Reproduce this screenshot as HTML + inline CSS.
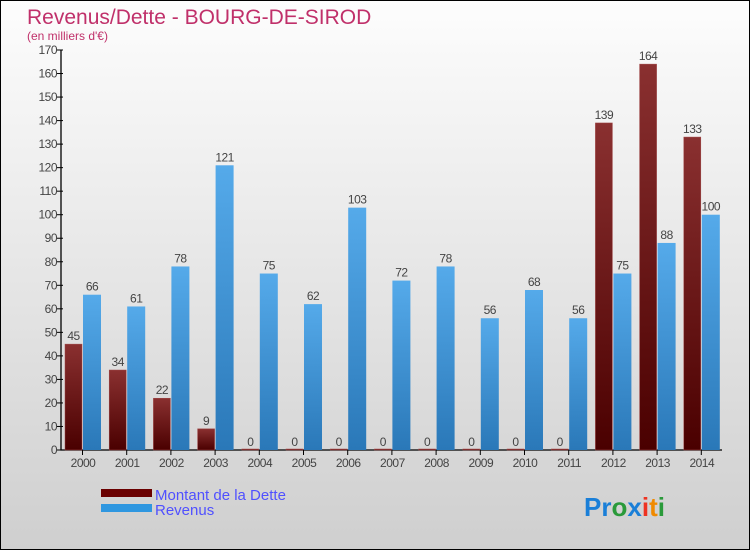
<!DOCTYPE html>
<html><head><meta charset="utf-8"><style>
body{margin:0;width:750px;height:550px;overflow:hidden;font-family:"Liberation Sans",sans-serif}
#wrap{position:absolute;left:0;top:0;width:748px;height:548px;border:1px solid #000;background:linear-gradient(#fdfdfd,#cfcfcf)}
</style></head><body>
<div id="wrap">
<svg id="chart" width="748" height="548">
<defs>
<linearGradient id="gd" x1="0" y1="0" x2="0" y2="1"><stop offset="0" stop-color="#8a3030"/><stop offset="1" stop-color="#4a0000"/></linearGradient>
<linearGradient id="gr" x1="0" y1="0" x2="0" y2="1"><stop offset="0" stop-color="#55aaea"/><stop offset="1" stop-color="#2a78b8"/></linearGradient>
</defs>
<text x="26" y="23" font-size="21" fill="#c0306a">Revenus/Dette - BOURG-DE-SIROD</text>
<text x="26" y="39" font-size="12" fill="#c0306a">(en milliers d'€)</text>
<g id="marks"></g>
<g>
<rect x="100" y="488" width="51" height="8" fill="#6a0000"/>
<text x="154" y="499" font-size="15" fill="#5050ff">Montant de la Dette</text>
<rect x="100" y="503" width="51" height="8" fill="#2f97e0"/>
<text x="154" y="514" font-size="15" fill="#5050ff">Revenus</text>
</g>
<text x="583" y="515" font-size="26" font-weight="bold"><tspan fill="#1a7fd8">Pr</tspan><tspan fill="#2a9a3a">o</tspan><tspan fill="#1a7fd8">x</tspan><tspan fill="#ee3322">i</tspan><tspan fill="#f08a00">t</tspan><tspan fill="#2a9a3a">i</tspan></text>
</svg>
</div>
<script>
const years=["2000","2001","2002","2003","2004","2005","2006","2007","2008","2009","2010","2011","2012","2013","2014"];
const dette=[45,34,22,9,0,0,0,0,0,0,0,0,139,164,133];
const revenus=[66,61,78,121,75,62,103,72,78,56,68,56,75,88,100];
const yTicks=[0,10,20,30,40,50,60,70,80,90,100,110,120,130,140,150,160,170];
const NS="http://www.w3.org/2000/svg";
const g=document.getElementById('marks');
const y0=449,yTop=49,yMax=170;
function yS(v){return y0-(v/yMax)*(y0-yTop);}
function xS(i){return 63+i*44.2;}
function mk(t,a){const e=document.createElementNS(NS,t);for(const k in a)e.setAttribute(k,a[k]);g.appendChild(e);return e;}
const ax=mk('path',{d:`M60 ${yTop} V${y0} H721`,stroke:'#000','stroke-width':1.3,fill:'none'});


yTicks.forEach(v=>{
 const y=yS(v);
 const l=mk('line',{x1:56,x2:62,y1:y,y2:y,stroke:'#000'});
 
 
 const t=mk('text',{x:56,y:y+4,'font-size':12,fill:'#444','text-anchor':'end','letter-spacing':'-0.5'});
 t.textContent=v;
 
 
});
years.forEach((yr,i)=>{
 const x=xS(i);
 const tk=mk('line',{x1:x+18.5,x2:x+18.5,y1:y0,y2:y0+5,stroke:'#000'});
 
 
 const t=mk('text',{x:x+19,y:y0+17,'font-size':12,fill:'#444','text-anchor':'middle','letter-spacing':'-0.5'});
 t.textContent=yr;
 
 
 const d=dette[i],r=revenus[i];
 const bd=mk('rect',{x:x+1,y:yS(d)-(d===0?1:0),width:17,height:Math.max(1,y0-yS(d)),fill:'url(#gd)',stroke:'#a04848','stroke-width':0.5});
 
 
 const td=mk('text',{x:x+9.5,y:yS(d)-4,'font-size':12,fill:'#444','text-anchor':'middle','letter-spacing':'-0.5'});
 td.textContent=d;
 
 
 const br=mk('rect',{x:x+19,y:yS(r),width:18,height:y0-yS(r),fill:'url(#gr)'});
 
 
 const tr=mk('text',{x:x+28,y:yS(r)-4,'font-size':12,fill:'#444','text-anchor':'middle','letter-spacing':'-0.5'});
 tr.textContent=r;
 
 
});
</script>
</body></html>
